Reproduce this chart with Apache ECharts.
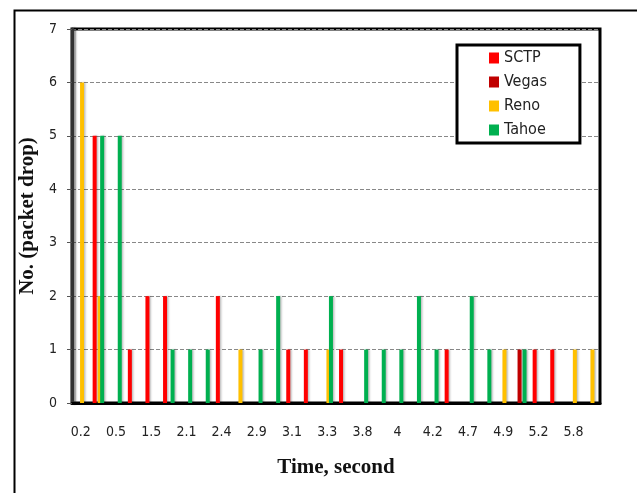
<!DOCTYPE html>
<html>
<head>
<meta charset="utf-8">
<script src="https://cdn.jsdelivr.net/npm/echarts@6/dist/echarts.min.js"></script>
<style>html,body{margin:0;padding:0;background:#fff;}#c{width:637px;height:493px;}</style>
</head>
<body>
<div id="c"></div>
<script>
// Tick labels shown on the time axis (every other time slot)
const tickLabels = ['0.2','0.5','1.5','2.1','2.4','2.9','3.1','3.3','3.8','4','4.2','4.7','4.9','5.2','5.8'];
// 30 time slots; unlabeled slots in between
const categories = [];
tickLabels.forEach(function (t) { categories.push(t); categories.push(''); });

const seriesNames = ['SCTP', 'Vegas', 'Reno', 'Tahoe'];
const sctp  = [null,5,null,1,2,2,null,null,2,null,null,null,1,1,null,1,null,null,null,null,null,1,null,null,null,null,1,1,null,null];
const vegas = [null,null,null,null,null,null,null,null,null,null,null,null,null,null,null,null,null,null,null,null,null,null,null,null,null,1,null,null,null,null];
const reno  = [6,2,null,null,null,null,null,null,null,1,null,null,null,null,1,null,null,null,null,null,null,null,null,null,1,null,null,null,1,1];
const tahoe = [null,5,5,null,null,1,1,1,null,null,1,2,null,null,2,null,1,1,1,2,1,null,2,1,null,1,null,null,null,null];
const yTicks = [0,1,2,3,4,5,6,7];

const colors = ['#FF0000', '#C00000', '#FFC000', '#00B050'];
const seriesData = [sctp, vegas, reno, tahoe];

const chart = echarts.init(document.getElementById('c'), null, {renderer: 'canvas'});
const narrow = '"Liberation Sans Narrow", "DejaVu Sans Condensed", "Liberation Sans", sans-serif';

chart.setOption({
  animation: false,
  backgroundColor: '#fff',
  color: colors,
  graphic: [{
    type: 'rect', left: 12, top: 8, z: -10,
    shape: {width: 700, height: 600},
    style: {fill: 'none', stroke: '#000', lineWidth: 2}
  }],
  grid: {
    left: 72, top: 29, width: 528, height: 374,
    show: true, borderColor: '#000', borderWidth: 3, backgroundColor: 'transparent'
  },
  legend: {
    data: seriesNames,
    orient: 'vertical',
    left: 457, top: 45,
    padding: [5, 33, 5, 32],
    itemGap: 8,
    itemWidth: 10, itemHeight: 11,
    icon: 'rect',
    borderColor: '#000', borderWidth: 3,
    backgroundColor: '#fff',
    textStyle: {fontFamily: narrow, fontSize: 16, color: '#222'}
  },
  xAxis: {
    type: 'category',
    data: categories,
    boundaryGap: true,
    axisLine: {show: true, lineStyle: {color: '#000', width: 3}},
    axisTick: {show: false},
    axisLabel: {interval: 0, margin: 22, fontFamily: narrow, fontSize: 14, color: '#222'},
    name: 'Time, second',
    nameLocation: 'middle',
    nameGap: 54,
    nameTextStyle: {fontFamily: '"Liberation Serif", serif', fontWeight: 'bold', fontSize: 21, color: '#111'},
    splitLine: {show: false}
  },
  yAxis: {
    type: 'value',
    min: 0, max: 7, interval: 1,
    axisLine: {show: true, lineStyle: {color: '#333', width: 3, shadowColor: 'rgba(0,0,0,0.45)', shadowBlur: 2, shadowOffsetX: 2}},
    axisTick: {show: true, length: 5, lineStyle: {color: '#555'}},
    axisLabel: {margin: 15, fontFamily: narrow, fontSize: 14, color: '#222',
      formatter: function (v) { return yTicks.indexOf(v) >= 0 ? String(v) : ''; }},
    splitLine: {show: true, lineStyle: {color: '#888', type: 'dashed', width: 1}},
    name: 'No. (packet drop)',
    nameLocation: 'middle',
    nameGap: 32,
    nameTextStyle: {fontFamily: '"Liberation Serif", serif', fontWeight: 'bold', fontSize: 21, color: '#111'}
  },
  series: seriesNames.map(function (n, i) {
    return {
      name: n,
      type: 'bar',
      data: seriesData[i],
      barWidth: 4,
      barGap: '-37.5%',
      itemStyle: {color: colors[i], shadowColor: 'rgba(0,0,0,0.25)', shadowBlur: 2, shadowOffsetX: 1.5}
    };
  })
});
</script>
</body>
</html>
